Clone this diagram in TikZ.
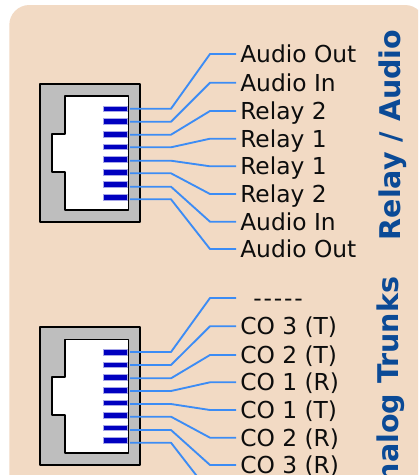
\documentclass[tikz,border=0pt]{standalone}
\usepackage{fontspec}
\setmainfont{DejaVu Sans}
\definecolor{panel}{HTML}{F2DAC4}
\definecolor{wirec}{HTML}{3C8CF5}
\definecolor{pinc}{HTML}{0000C0}
\definecolor{shell}{HTML}{BEBEBE}
\definecolor{titlec}{HTML}{0B4A96}
\tikzset{
  x=0.75pt,y=-0.75pt,
  wire/.style={draw=wirec,line width=1.4pt,line join=round},
  pin/.style={fill=pinc,draw=pinc!35,line width=0.3pt},
  jackshell/.style={draw=black,fill=shell,line width=1.5pt,line join=round},
  jackin/.style={draw=black,fill=white,line width=1.2pt,line join=round},
  lab/.style={anchor=west,inner ysep=0pt,inner xsep=3pt,text height=12.8pt,text depth=0pt,font=\fontsize{17.5pt}{17.5pt}\selectfont,text=black!95},
  ttl/.style={rotate=90,inner sep=0pt,anchor=center,font=\fontsize{21.4pt}{21.4pt}\selectfont\bfseries,text=titlec},
}
\newcommand{\jack}[1]{%
  \begin{scope}[shift={(0,#1)}]
    \draw[jackshell] (39.7,83.5) rectangle (140.3,222);
    \draw[jackin] (64.7,96) -- (128.3,96) -- (128.3,209.7) -- (64.7,209.7) -- (64.7,171.7) -- (52,171.7) -- (52,133.7) -- (64.7,133.7) -- cycle;
    \foreach \p in {108.7,121.3,134,146.7,159.3,172,184.3,197}{
      \path[pin] (102.7,\p-2.7) rectangle (127.3,\p+2.7);
    }
  \end{scope}}
\begin{document}
\begin{tikzpicture}
\useasboundingbox (0,0) rectangle (418,475);
\clip (0,0) rectangle (418,475);
\fill[white] (0,0) rectangle (418,475);
\fill[panel,rounded corners=15pt] (9.3,5) rectangle (425,520);
\jack{0}
\jack{243.3}
\foreach \n/\ya/\yb/\t in {a1/108.7/54/Audio Out,a2/121.7/82.7/Audio In,a3/134.7/111/Relay 2,a4/147.3/138.7/Relay 1,a5/160.7/166.3/Relay 1,a6/173.3/194/Relay 2,a7/186.7/221.7/Audio In,a8/199.3/249/Audio Out,
  b1/352/298/{\hspace{9.75pt}-\kern1.4pt{}-\kern1.4pt{}-\kern1.4pt{}-\kern1.4pt{}-},b2/365/326.3/CO 3 (T),b3/378.3/355/CO 2 (T),b4/391/382.3/CO 1 (R),b5/404/410/CO 1 (T),b6/416.7/437.7/CO 2 (R),b7/430/465/CO 3 (R)}{
  \coordinate (\n s) at (130,\ya);
  \coordinate (\n m) at (171,\ya);
  \node[lab] (\n) at (236,\yb) {\t};
  \draw[wire] (\n s) -- (\n m) -- (210,\yb) -- (\n.west);
}
\coordinate (b8s) at (130,442.7);
\coordinate (b8m) at (171,442.7);
\coordinate (b8e) at (210,493);
\draw[wire] (b8s) -- (b8m) -- (b8e);
\node[ttl] (t1) at (392.5,135) {Relay / Audio};
\node[ttl] (t2) at (391,391) {Analog Trunks};
\end{tikzpicture}
\end{document}
